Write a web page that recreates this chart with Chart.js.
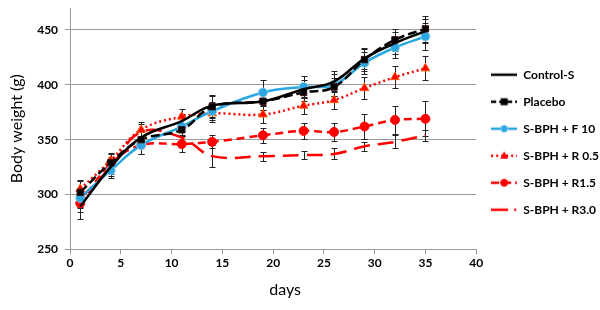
<!DOCTYPE html>
<html><head><meta charset="utf-8">
<script src="https://cdn.jsdelivr.net/npm/chart.js@4.4.1/dist/chart.umd.min.js"></script>
<style>html,body{margin:0;padding:0;background:#fff}</style>
</head><body>
<canvas id="c" width="600" height="310"></canvas>
<script>
// ---- data ----
const days = [1, 4, 7, 11, 14, 19, 23, 26, 29, 32, 35];
const seriesNames = ['Control-S', 'Placebo', 'S-BPH + F 10', 'S-BPH + R 0.5', 'S-BPH + R1.5', 'S-BPH + R3.0'];
const controlS = [289, 325, 352, 367, 381, 385, 396, 403, 424, 438, 449];
const placebo  = [302, 329, 350, 359, 380, 385, 393, 398, 423, 441, 451];
const f10      = [297, 322, 345, 362, 376, 393, 398, 400, 420, 434, 444];
const r05      = [305, 331, 359, 371, 374, 373, 381, 386, 397, 407, 415];
const r15      = [292, 328, 345, 346, 348, 354, 358, 357, 362, 368, 369];
const r30      = [296, 325, 357, 352, 335, 335, 336, 337, 344, 348, 354];
const errControl = [11, 8, 7, 6, 10, 8, 8, 10, 10, 10, 11];
const errPlacebo = [10, 8, 7, 6, 10, 8, 8, 8, 10, 10, 12];
const errF10     = [8, 7, 8, 8, 8, 11, 10, 10, 10, 10, 12];
const errR05     = [8, 7, 7, 7, 8, 8, 8, 8, 10, 10, 11];
const errR15     = [8, 6, 8, 7, 6, 7, 7, 8, 11, 13, 16];
const errR30     = [8, 6, 7, 6, 10, 4, 4, 5, 4, 6, 5];
const yTickValues = [250, 300, 350, 400, 450];
const xTickValues = [0, 5, 10, 15, 20, 25, 30, 35, 40];

const BLUE = '#2AA7E0', RED = '#FF0000';
const FONT = 'Lato, "Open Sans", sans-serif';

function pts(vals) { return days.map((d, i) => ({x: d, y: vals[i]})); }

// legend sample images (line + marker)
function sample(color, dash, marker, mFill, mStroke, tail) {
  const cv = document.createElement('canvas');
  cv.width = 26; cv.height = 12;
  const g = cv.getContext('2d');
  g.strokeStyle = color; g.lineWidth = 2.5; g.setLineDash(dash);
  g.beginPath();
  if (tail) { g.moveTo(0, 6); g.lineTo(17, 6); g.moveTo(23, 6); g.lineTo(25, 6); }
  else { g.moveTo(0, 6); g.lineTo(26, 6); }
  g.stroke(); g.setLineDash([]);
  g.fillStyle = mFill; g.strokeStyle = mStroke; g.lineWidth = 1;
  if (marker === 'rect') { g.fillRect(9.5, 2.5, 7, 7); }
  else if (marker === 'circle') { g.beginPath(); g.arc(13, 6, 3.5, 0, Math.PI * 2); g.fill(); g.stroke(); }
  else if (marker === 'triangle') { g.beginPath(); g.moveTo(13, 1.5); g.lineTo(17, 9); g.lineTo(9, 9); g.closePath(); g.fill(); }
  return cv;
}
const legendImgs = [
  sample('#000', [], null),
  sample('#000', [5, 3], 'rect', '#000', '#000'),
  sample(BLUE, [], 'circle', BLUE, '#8ccbee'),
  sample(RED, [2, 3], 'triangle', RED, RED),
  sample(RED, [8, 4], 'circle', RED, RED),
  sample(RED, [], null, null, null, true)
];

const errorBars = {
  id: 'errorBars',
  beforeDatasetsDraw(chart) {
    const {ctx} = chart; const xs = chart.scales.x, ys = chart.scales.y;
    ctx.save(); ctx.strokeStyle = '#222'; ctx.lineWidth = 1;
    chart.data.datasets.forEach(ds => {
      ds.data.forEach((p, j) => {
        const e = ds.errors[j];
        const px = Math.round(xs.getPixelForValue(p.x)) + 0.5;
        const yt = Math.round(ys.getPixelForValue(p.y + e)) + 0.5;
        const yb = Math.round(ys.getPixelForValue(p.y - e)) + 0.5;
        ctx.beginPath();
        ctx.moveTo(px, yt); ctx.lineTo(px, yb);
        ctx.moveTo(px - 3, yt); ctx.lineTo(px + 3, yt);
        ctx.moveTo(px - 3, yb); ctx.lineTo(px + 3, yb);
        ctx.stroke();
      });
    });
    ctx.restore();
  }
};

const common = {fill: false, tension: 0.4, borderWidth: 2.5, pointBorderWidth: 1};
const datasets = [
  {...common, label: seriesNames[0], data: pts(controlS), errors: errControl, borderColor: '#000', pointRadius: 0},
  {...common, label: seriesNames[1], data: pts(placebo), errors: errPlacebo, borderColor: '#000', borderDash: [9, 4],
    pointStyle: 'rect', pointRadius: 4.5, pointBackgroundColor: '#000', pointBorderColor: '#3a1010'},
  {...common, label: seriesNames[2], data: pts(f10), errors: errF10, borderColor: BLUE,
    pointStyle: 'circle', pointRadius: 4.5, pointBackgroundColor: BLUE, pointBorderColor: '#8ccbee'},
  {...common, label: seriesNames[3], data: pts(r05), errors: errR05, borderColor: RED, borderDash: [2, 3],
    pointStyle: 'triangle', pointRadius: 5, pointBackgroundColor: RED, pointBorderColor: '#ff5a00'},
  {...common, label: seriesNames[4], data: pts(r15), errors: errR15, borderColor: RED, borderDash: [8, 5],
    pointStyle: 'circle', pointRadius: 4.5, pointBackgroundColor: RED, pointBorderColor: RED},
  {...common, label: seriesNames[5], data: pts(r30), errors: errR30, borderColor: RED, borderDash: [16, 8], pointRadius: 0}
];

new Chart(document.getElementById('c'), {
  type: 'line',
  data: {datasets},
  plugins: [errorBars],
  options: {
    responsive: false, animation: false, devicePixelRatio: 1,
    layout: {padding: {top: 8, left: 7, right: -9, bottom: 11}},
    plugins: {
      tooltip: {enabled: false},
      legend: {
        position: 'right', fullSize: false,
        title: {display: true, text: ' ', font: {size: 10}, padding: {top: 4, bottom: 11}},
        labels: {
          usePointStyle: true, pointStyleWidth: 26, padding: 15, color: '#000',
          font: {family: FONT, size: 12, weight: 'bold'},
          generateLabels: () => seriesNames.map((n, i) => ({
            text: n, pointStyle: legendImgs[i], fillStyle: 'transparent', strokeStyle: 'transparent',
            lineWidth: 0, hidden: false, datasetIndex: i, fontColor: '#000'
          }))
        }
      }
    },
    scales: {
      x: {
        type: 'linear', min: 0, max: 40,
        afterBuildTicks: s => { s.ticks = xTickValues.map(v => ({value: v})); },
        grid: {drawOnChartArea: false, drawTicks: true, tickLength: 5, color: '#9a9a9a'},
        border: {color: '#9a9a9a'},
        ticks: {color: '#000', padding: 2, maxRotation: 0, font: {family: FONT, size: 12, weight: 'bold'}},
        title: {display: true, text: '\u2003\u2003days', color: '#000', font: {family: FONT, size: 16}, padding: {top: 7, bottom: 0}}
      },
      y: {
        min: 250, max: 470,
        afterBuildTicks: s => { s.ticks = yTickValues.map(v => ({value: v})); },
        afterFit: s => { s.paddingTop = 0; },
        grid: {color: '#9a9a9a', tickLength: 5},
        border: {color: '#9a9a9a'},
        ticks: {color: '#000', padding: 7, font: {family: FONT, size: 12, weight: 'bold'}},
        title: {display: true, text: 'Body weight (g)', color: '#000', font: {family: FONT, size: 16}, padding: {top: 0, bottom: 4}}
      }
    }
  }
});
</script>
</body></html>
